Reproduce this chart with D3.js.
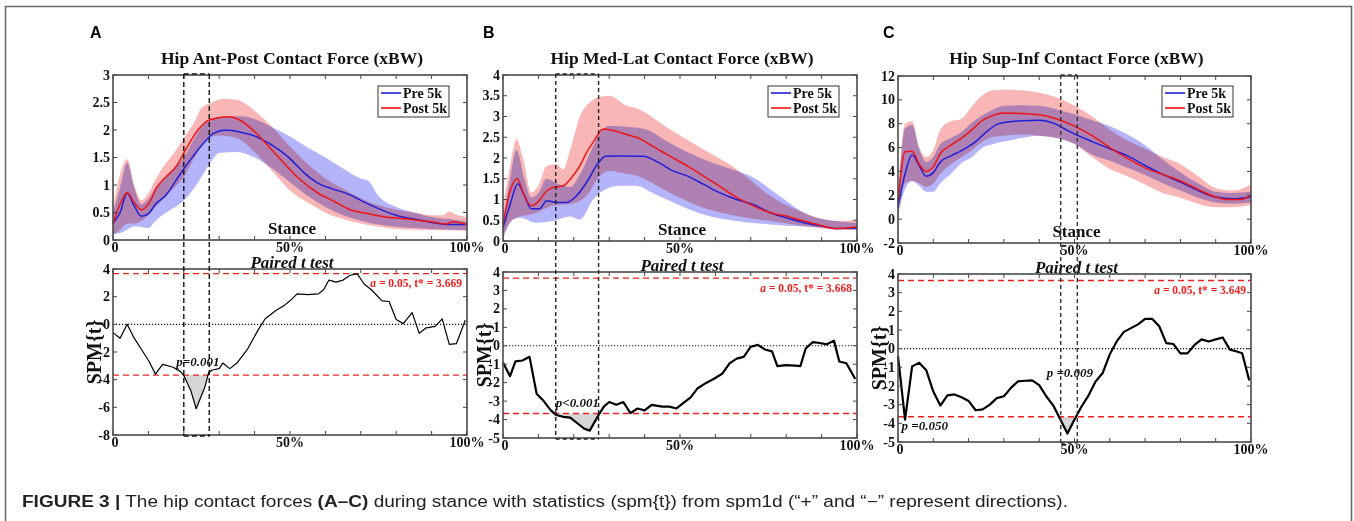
<!DOCTYPE html>
<html><head><meta charset="utf-8">
<script src="https://cdn.jsdelivr.net/npm/d3@7"></script>
<style>body{margin:0;background:#fff}svg{display:block}</style>
</head><body>
<svg id="c" width="1354" height="521"></svg>
<script>
// ---------------- DATA ----------------
const xTickValues = [0, 50, 100];
const xTickLabels = ["0", "50%", "100%"];
const seriesNames = ["Pre 5k", "Post 5k"];
const panelLetters = ["A", "B", "C"];
const panelTitles = ["Hip Ant-Post Contact Force (xBW)", "Hip Med-Lat Contact Force (xBW)", "Hip Sup-Inf Contact Force (xBW)"];
const thresholds = [3.669, 3.668, 3.649];

// Panel A: Ant-Post
const apPreMean = [[0,0.30],[2,0.50],[4,0.85],[6,0.62],[8,0.43],[10,0.48],[12,0.65],[15,0.82],[19,1.20],[22.6,1.52],[26,1.79],[28.4,1.94],[32,2.00],[36,1.96],[40.5,1.88],[44,1.76],[50,1.48],[54,1.22],[58,1.03],[62,0.93],[67,0.82],[70,0.72],[75,0.57],[80,0.45],[85,0.38],[90,0.32],[95,0.28],[100,0.28]];
const apPreUpper = [[0,0.50],[2,0.95],[4,1.40],[6,0.95],[8,0.65],[10,0.75],[12,0.95],[15,1.15],[18,1.35],[20,1.50],[23,1.85],[25,2.05],[28,2.20],[32,2.25],[36,2.25],[40,2.20],[45,2.05],[50,1.88],[55,1.68],[60,1.50],[65,1.30],[70,1.12],[72,1.08],[75,0.80],[80,0.60],[85,0.50],[90,0.42],[95,0.38],[100,0.33]];
const apPreLower = [[0,0.10],[3,0.15],[6,0.25],[10,0.22],[12,0.35],[15,0.50],[18,0.62],[20,0.72],[23,0.95],[25,1.15],[28,1.45],[30,1.58],[35,1.60],[40,1.50],[45,1.30],[50,1.05],[55,0.80],[60,0.60],[65,0.45],[70,0.35],[75,0.28],[80,0.24],[90,0.20],[100,0.18]];
const apPostMean = [[0,0.30],[2,0.65],[4,0.86],[6,0.68],[8,0.55],[10,0.65],[12.5,0.97],[15,1.15],[18,1.35],[20,1.58],[24,2.00],[27.5,2.19],[32.7,2.24],[36.6,2.15],[40.5,1.94],[44,1.70],[48,1.42],[53,1.09],[58,0.85],[62.6,0.70],[67,0.55],[72,0.48],[77,0.42],[82,0.39],[87,0.35],[91,0.32],[94,0.29],[96,0.33],[100,0.28]];
const apPostUpper = [[0,0.55],[2,1.20],[4,1.47],[6,1.00],[8,0.72],[10,0.85],[12,1.10],[15,1.40],[18,1.65],[20,1.85],[23,2.15],[25,2.40],[28,2.50],[31,2.57],[35,2.55],[38,2.45],[40,2.35],[45,2.05],[50,1.70],[55,1.38],[60,1.12],[65,0.93],[70,0.76],[75,0.63],[80,0.55],[85,0.50],[90,0.45],[93,0.45],[95,0.52],[97,0.46],[100,0.42]];
const apPostLower = [[0,0.10],[2,0.18],[4,0.30],[6,0.30],[8,0.35],[10,0.45],[12,0.60],[15,0.80],[18,1.00],[20,1.15],[23,1.50],[25,1.72],[28,1.88],[30,1.90],[35,1.85],[40,1.60],[45,1.25],[50,0.90],[55,0.68],[60,0.50],[65,0.38],[70,0.30],[75,0.24],[80,0.20],[90,0.18],[100,0.17]];
const apSpm = [[0,-0.6],[2,-1.0],[4,0.0],[6,-1.0],[8,-1.8],[10,-2.6],[12,-3.6],[14,-2.9],[17,-3.1],[19,-3.4],[20,-3.7],[22,-4.8],[23.5,-6.1],[26,-4.5],[27,-3.5],[28,-3.3],[30,-3.2],[31,-2.8],[33,-3.2],[35,-2.8],[38,-1.8],[41,-0.4],[43,0.4],[46,1.0],[48,1.3],[50,1.7],[52,2.2],[55,2.15],[58,2.2],[59.5,2.5],[61,3.2],[63,3.05],[65,3.2],[67,3.55],[69,3.65],[71,2.9],[73,2.5],[76,1.7],[78,1.65],[80,0.35],[82,0.05],[84.5,0.85],[86.5,-0.65],[88.5,-0.25],[91,-0.15],[93,0.4],[95,-1.45],[97,-1.4],[99.5,0.3]];

// Panel B: Med-Lat
const mlPreMean = [[0,0.32],[1.9,0.85],[4.2,1.38],[6,1.10],[8,0.78],[10.4,0.78],[12.3,0.97],[15,0.93],[18,0.93],[20.8,1.09],[23.6,1.41],[27,1.89],[29,2.04],[33,2.05],[39.6,2.04],[44,1.89],[48,1.69],[52,1.57],[56.6,1.37],[61,1.17],[66,1.00],[70.7,0.88],[75.5,0.68],[80,0.56],[85,0.44],[90,0.36],[94,0.30],[100,0.30]];
const mlPreUpper = [[0,0.50],[2,1.50],[3.8,2.20],[6,1.50],[8,1.05],[10,1.15],[12.3,1.50],[15,1.40],[19,1.30],[21.7,1.60],[25,2.20],[27,2.54],[30,2.78],[36,2.74],[40,2.70],[47,2.37],[56.6,1.97],[62,1.80],[66,1.69],[70.7,1.53],[75.5,1.25],[80,0.97],[85,0.68],[94,0.48],[100,0.44]];
const mlPreLower = [[0,0.04],[2.8,0.52],[4.7,0.56],[9.4,0.44],[14,0.48],[19,0.59],[21.7,0.52],[25.5,1.00],[28,1.20],[33,1.33],[37.7,1.33],[42,1.17],[47,0.97],[56.6,0.64],[66,0.48],[75.5,0.40],[85,0.35],[100,0.30]];
const mlPostMean = [[0,0.40],[2,1.20],[4,1.50],[6,1.10],[8,0.85],[10,0.95],[12.3,1.20],[14,1.29],[17,1.33],[19,1.49],[21.7,1.81],[23.6,2.13],[26,2.45],[28.3,2.70],[32.5,2.63],[35.8,2.54],[37.7,2.50],[42,2.30],[47,2.05],[52,1.81],[56.6,1.57],[61,1.33],[66,1.05],[70.7,0.85],[75.5,0.68],[80,0.60],[85,0.48],[89.6,0.38],[94,0.30],[100,0.34]];
const mlPostUpper = [[0,0.80],[2,1.80],[3.8,2.45],[5.7,1.97],[8,1.17],[10,1.33],[12.3,1.81],[15,1.85],[17,1.73],[19,2.20],[21.7,3.00],[24.5,3.34],[28,3.48],[30,3.50],[35,3.26],[37.7,3.20],[47,2.70],[56.6,2.21],[66,1.73],[75.5,1.09],[85,0.68],[94,0.48],[100,0.50]];
const mlPostLower = [[0,0.12],[2.8,0.52],[9.4,0.68],[14,0.85],[19,0.89],[23.6,1.09],[27.4,1.57],[30,1.69],[33,1.65],[37.7,1.57],[47,1.17],[56.6,0.80],[66,0.60],[75.5,0.48],[85,0.36],[94,0.28],[100,0.28]];
const mlSpm = [[0,-0.9],[2,-1.65],[3.5,-0.85],[5.5,-0.8],[7.5,-0.6],[9.5,-2.6],[11.5,-3.0],[13.5,-3.5],[15,-3.75],[17,-3.85],[19,-3.9],[21,-4.2],[23,-4.5],[24.5,-4.6],[27,-3.75],[28.5,-3.3],[30,-3.05],[32,-3.2],[34,-3.05],[36,-3.65],[38,-3.4],[40,-3.5],[42,-3.2],[45,-3.3],[47,-3.3],[49,-3.4],[51,-3.1],[53,-2.8],[55,-2.3],[57.5,-2.0],[59.5,-1.8],[62,-1.5],[64,-0.95],[66,-0.7],[68,-0.6],[70,-0.05],[72,0.05],[74,-0.2],[76,-0.3],[77.5,-1.1],[80,-1.05],[82.5,-1.08],[84,-1.1],[85.5,-0.15],[87.5,0.2],[89.5,0.15],[91.5,0.08],[93.5,0.28],[95,-0.85],[97,-0.95],[99.5,-1.8]];

// Panel C: Sup-Inf
const siPreMean = [[0,1.0],[2,3.8],[4,5.4],[6,4.5],[8,3.6],[10,3.9],[12,4.8],[15,5.3],[18,5.75],[22,6.5],[25,7.3],[28,7.95],[31,8.15],[35,8.25],[40,8.3],[44,8.05],[47,7.6],[50,7.15],[55,6.5],[60,5.9],[65,5.3],[70,4.5],[75,3.75],[80,3.1],[85,2.4],[90,1.85],[95,1.7],[100,1.85]];
const siPreUpper = [[0,1.5],[2,7.6],[4,7.9],[6,5.9],[8,4.8],[10,5.2],[12,6.3],[15,6.8],[18,7.3],[21,8.1],[24,8.7],[27,9.2],[30,9.5],[35,9.55],[40,9.5],[45,9.2],[50,8.8],[55,8.3],[60,7.8],[65,7.1],[70,6.2],[75,5.0],[80,3.9],[85,3.0],[90,2.3],[95,2.2],[100,2.3]];
const siPreLower = [[0,0.3],[2,2.5],[4,3.2],[6,2.8],[8,2.3],[10,2.3],[12,3.0],[15,3.8],[18,4.7],[21,5.2],[24,6.0],[27,6.3],[30,6.5],[35,6.8],[40,7.0],[45,6.8],[50,6.3],[55,5.4],[60,4.9],[65,4.3],[70,3.7],[75,3.0],[80,2.4],[85,1.8],[90,1.4],[95,1.3],[100,1.4]];
const siPostMean = [[0,1.3],[2,5.65],[4,5.7],[6,4.6],[8,4.0],[10,4.4],[12,5.5],[15,6.2],[18,6.8],[21,7.5],[24,8.3],[27,8.7],[30,8.9],[35,8.85],[40,8.75],[45,8.4],[50,7.8],[55,7.0],[60,6.0],[65,5.1],[70,4.3],[75,3.75],[80,3.2],[85,2.5],[90,1.85],[93,1.65],[97,1.65],[100,2.0]];
const siPostUpper = [[0,1.8],[2,8.0],[4,8.2],[6,6.0],[8,5.2],[10,5.8],[12,7.5],[15,8.2],[18,8.4],[21,9.5],[24,10.4],[27,10.8],[30,10.85],[35,10.8],[40,10.6],[45,10.2],[50,9.5],[55,8.6],[60,7.5],[65,6.6],[70,5.9],[75,5.2],[80,4.6],[85,3.6],[90,2.6],[95,2.4],[100,2.9]];
const siPostLower = [[0,0.5],[2,3.0],[4,3.2],[6,3.0],[8,2.7],[10,3.0],[12,3.8],[15,4.6],[18,5.2],[21,5.8],[24,6.5],[27,6.9],[30,7.0],[35,7.1],[40,7.0],[45,6.8],[50,6.3],[55,5.2],[60,4.2],[65,3.6],[70,2.9],[75,2.2],[80,1.8],[85,1.3],[90,1.0],[95,1.0],[100,1.2]];
const siSpm = [[0,-0.4],[2,-3.8],[4,-0.95],[6,-0.75],[8,-1.15],[10,-2.3],[12,-3.05],[14,-2.5],[16,-2.45],[18,-2.6],[20,-2.8],[22,-3.3],[24,-3.25],[26,-3.0],[28,-2.65],[30,-2.55],[32,-2.1],[34,-1.75],[36,-1.72],[38,-1.7],[40,-1.95],[42,-2.55],[44,-3.05],[46,-3.8],[48,-4.55],[50,-3.8],[52,-3.1],[54,-2.5],[56,-1.75],[58,-1.3],[60,-0.3],[62,0.4],[64,0.9],[66,1.1],[68,1.3],[70,1.6],[72,1.6],[74,1.2],[76,0.3],[78,0.25],[80,-0.25],[82,-0.25],[84,0.2],[86,0.5],[88,0.38],[90,0.5],[92,0.6],[94,-0.05],[96,-0.15],[97.5,-0.25],[99.5,-1.7]];

// y tick values
const apTopTicks = [0,0.5,1,1.5,2,2.5,3];
const apBotTicks = [-8,-6,-4,-2,0,2,4];
const mlTopTicks = [0,0.5,1,1.5,2,2.5,3,3.5,4];
const mlBotTicks = [-5,-4,-3,-2,-1,0,1,2,3,4];
const siTopTicks = [-2,0,2,4,6,8,10,12];
const siBotTicks = [-5,-4,-3,-2,-1,0,1,2,3,4];

// significant clusters (% stance) and p-value labels
const apCluster = [20, 27.2];
const mlCluster = [14.9, 27.0];
const siCluster = [46.1, 50.8];
const apPLabels = [{text:"p=0.001", x:24, y:-3.0}];
const mlPLabels = [{text:"p<0.001", x:21, y:-3.32}];
const siPLabels = [{text:"p =0.009", x:48.7, y:-1.52}, {text:"p =0.050", x:7.6, y:-4.36}];

const captionBold = "FIGURE 3 |";
const captionText = " The hip contact forces ";
const captionBold2 = "(A–C)";
const captionText2 = " during stance with statistics (spm{t}) from spm1d (\u201C+\u201D and \u201C\u2212\u201D represent directions).";

// ---------------- LAYOUT ----------------
const panels = [
  {letter:panelLetters[0], title:panelTitles[0], thr:thresholds[0],
   pre:[apPreMean,apPreUpper,apPreLower], post:[apPostMean,apPostUpper,apPostLower], spm:apSpm,
   topTicks:apTopTicks, botTicks:apBotTicks, cluster:apCluster, pLabels:apPLabels,
   x0:113, x1:467, t0:75, t1:240, b0:269, b1:435, letterX:90, spmW:1.2, clusterColor:"#111", clusterDash:"5,3"},
  {letter:panelLetters[1], title:panelTitles[1], thr:thresholds[1],
   pre:[mlPreMean,mlPreUpper,mlPreLower], post:[mlPostMean,mlPostUpper,mlPostLower], spm:mlSpm,
   topTicks:mlTopTicks, botTicks:mlBotTicks, cluster:mlCluster, pLabels:mlPLabels,
   x0:503, x1:857, t0:75, t1:241, b0:272, b1:438, letterX:483, spmW:2.2, clusterColor:"#222", clusterDash:"4,3"},
  {letter:panelLetters[2], title:panelTitles[2], thr:thresholds[2],
   pre:[siPreMean,siPreUpper,siPreLower], post:[siPostMean,siPostUpper,siPostLower], spm:siSpm,
   topTicks:siTopTicks, botTicks:siBotTicks, cluster:siCluster, pLabels:siPLabels,
   x0:898, x1:1251, t0:76, t1:243, b0:274, b1:442, letterX:883, spmW:2.2, clusterColor:"#333", clusterDash:"4,3"}
];

const serif = "'Liberation Serif','Times New Roman',serif";
const sans = "'Liberation Sans',Arial,Helvetica,sans-serif";
const svg = d3.select("#c");

// figure frame
svg.append("path").attr("d","M5.5,530 L5.5,6.5 L1351.5,6.5 L1351.5,530")
  .attr("fill","none").attr("stroke","#6a6a6a").attr("stroke-width",1.6);

const BLUE = "#1f1fd8", RED = "#f01414";

panels.forEach((p, i) => {
  const g = svg.append("g");
  const x = d3.scaleLinear().domain([0,100]).range([p.x0, p.x1]);
  const yT = d3.scaleLinear().domain(d3.extent(p.topTicks)).range([p.t1, p.t0]);
  const yB = d3.scaleLinear().domain(d3.extent(p.botTicks)).range([p.b1, p.b0]);
  const cx = (p.x0 + p.x1) / 2;

  // panel letter
  g.append("text").attr("x", p.letterX).attr("y", 38).text(p.letter)
    .attr("font-family", sans).attr("font-weight","bold").attr("font-size",16).attr("fill","#000");
  // title
  g.append("text").attr("x", cx + 2).attr("y", 64).attr("text-anchor","middle").text(p.title)
    .attr("font-family", serif).attr("font-weight","bold").attr("font-size",17.5).attr("fill","#111");

  // bands
  const lineT = d3.line().x(d => x(d[0])).y(d => yT(d[1])).curve(d3.curveMonotoneX);
  function band(upper, lower) {
    const a = lineT(upper);
    const b = lineT(lower.slice().reverse());
    return a + "L" + b.slice(1) + "Z";
  }
  g.append("path").attr("d", band(p.pre[1], p.pre[2])).attr("fill","rgb(180,180,250)")
    .style("mix-blend-mode","multiply");
  g.append("path").attr("d", band(p.post[1], p.post[2])).attr("fill","rgb(248,182,182)")
    .style("mix-blend-mode","multiply");
  g.append("path").attr("d", lineT(p.pre[0])).attr("fill","none").attr("stroke",BLUE).attr("stroke-width",1.5);
  g.append("path").attr("d", lineT(p.post[0])).attr("fill","none").attr("stroke",RED).attr("stroke-width",1.5);

  // Stance label
  g.append("text").attr("x", cx + 2).attr("y", p.t1 - 6).attr("text-anchor","middle").text("Stance")
    .attr("font-family", serif).attr("font-weight","bold").attr("font-size",17).attr("fill","#111");

  // bottom: SPM
  const clipId = "clip" + i;
  const defs = svg.append("defs");
  defs.append("clipPath").attr("id", clipId).append("rect")
    .attr("x", p.x0).attr("y", yB(-p.thr)).attr("width", p.x1 - p.x0).attr("height", p.b1 - yB(-p.thr));
  const areaB = d3.area().x(d => x(d[0])).y0(yB(-p.thr)).y1(d => yB(d[1]));
  g.append("path").attr("d", areaB(p.spm)).attr("fill","#d6d6d6").attr("clip-path", `url(#${clipId})`);

  // zero line
  g.append("line").attr("x1", p.x0).attr("x2", p.x1).attr("y1", yB(0)).attr("y2", yB(0))
    .attr("stroke","#111").attr("stroke-width",1.1).attr("stroke-dasharray","1.2,1.8");
  // threshold lines
  [p.thr, -p.thr].forEach(t => {
    g.append("line").attr("x1", p.x0).attr("x2", p.x1).attr("y1", yB(t)).attr("y2", yB(t))
      .attr("stroke","#f02020").attr("stroke-width",1.4).attr("stroke-dasharray","6,4");
  });
  g.append("text").attr("x", p.x1 - 5).attr("y", yB(p.thr) + 13.5).attr("text-anchor","end")
    .attr("font-family", serif).attr("font-weight","bold").attr("font-size",11.5).attr("fill","#f02020")
    .html(`<tspan font-style="italic">a</tspan> = 0.05, t* = ${p.thr.toFixed(3)}`);

  const lineB = d3.line().x(d => x(d[0])).y(d => yB(d[1]));
  g.append("path").attr("d", lineB(p.spm)).attr("fill","none").attr("stroke","#000")
    .attr("stroke-width", p.spmW).attr("stroke-linejoin","round");

  // p labels
  p.pLabels.forEach(l => {
    g.append("text").attr("x", x(l.x)).attr("y", yB(l.y)).attr("text-anchor","middle").text(l.text)
      .attr("font-family", serif).attr("font-weight","bold").attr("font-style","italic")
      .attr("font-size",13).attr("fill","#111");
  });

  // Paired t test label
  g.append("text").attr("x", cx + 2).attr("y", p.b0 - 1).attr("text-anchor","middle").text("Paired t test")
    .attr("font-family", serif).attr("font-weight","bold").attr("font-style","italic")
    .attr("font-size",17).attr("fill","#111");
  // SPM{t}
  const ym = (p.b0 + p.b1) / 2;
  g.append("text").attr("transform", `translate(${p.x0 - 12},${ym}) rotate(-90)`)
    .attr("text-anchor","middle").text("SPM{t}")
    .attr("font-family", serif).attr("font-weight","bold").attr("font-size",20).attr("fill","#111");

  // axes boxes with ticks
  function axesBox(y, y0, y1, ticks) {
    const xt = d3.range(0, 101, 10);
    const tl = 4;
    xt.forEach(v => {
      g.append("line").attr("x1", x(v)).attr("x2", x(v)).attr("y1", y1).attr("y2", y1 - tl).attr("stroke","#444").attr("stroke-width",1);
      g.append("line").attr("x1", x(v)).attr("x2", x(v)).attr("y1", y0).attr("y2", y0 + tl).attr("stroke","#444").attr("stroke-width",1);
    });
    ticks.forEach(v => {
      g.append("line").attr("x1", p.x0).attr("x2", p.x0 + tl).attr("y1", y(v)).attr("y2", y(v)).attr("stroke","#444").attr("stroke-width",1);
      g.append("line").attr("x1", p.x1).attr("x2", p.x1 - tl).attr("y1", y(v)).attr("y2", y(v)).attr("stroke","#444").attr("stroke-width",1);
      g.append("text").attr("x", p.x0 - 3).attr("y", y(v) + 4.5).attr("text-anchor","end").text(String(v))
        .attr("font-family", serif).attr("font-weight","bold").attr("font-size",14).attr("fill","#111");
    });
    xTickValues.forEach((v, k) => {
      g.append("text").attr("x", x(v) + (k === 0 ? 2 : 0)).attr("y", y1 + 12).attr("text-anchor","middle").text(xTickLabels[k])
        .attr("font-family", serif).attr("font-weight","bold").attr("font-size",14).attr("fill","#111");
    });
    g.append("rect").attr("x", p.x0).attr("y", y0).attr("width", p.x1 - p.x0).attr("height", y1 - y0)
      .attr("fill","none").attr("stroke","#4a4a4a").attr("stroke-width",1.6);
  }
  axesBox(yT, p.t0, p.t1, p.topTicks);
  axesBox(yB, p.b0, p.b1, p.botTicks);

  // cluster dashed box spanning both plots
  const cx0 = x(p.cluster[0]), cx1 = x(p.cluster[1]);
  g.append("path").attr("d", `M${cx0},${p.t0 - 1} L${cx1},${p.t0 - 1} M${cx0},${p.b1 + 1} L${cx1},${p.b1 + 1} M${cx0},${p.t0 - 1} L${cx0},${p.b1 + 1} M${cx1},${p.t0 - 1} L${cx1},${p.b1 + 1}`)
    .attr("fill","none").attr("stroke", p.clusterColor).attr("stroke-width",1.4).attr("stroke-dasharray", p.clusterDash);

  // legend
  const lx = p.x1 - 89, ly = 86;
  g.append("rect").attr("x", lx).attr("y", ly).attr("width", 71).attr("height", 31)
    .attr("fill","#fff").attr("stroke","#333").attr("stroke-width",1);
  [[BLUE, seriesNames[0], 7], [RED, seriesNames[1], 22]].forEach(([c, t, dy]) => {
    g.append("line").attr("x1", lx + 3).attr("x2", lx + 23).attr("y1", ly + dy).attr("y2", ly + dy)
      .attr("stroke", c).attr("stroke-width",1.6);
    g.append("text").attr("x", lx + 25).attr("y", ly + dy + 4.5).text(t)
      .attr("font-family", serif).attr("font-weight","bold").attr("font-size",14).attr("fill","#111");
  });
});

// caption
const cap = svg.append("text").attr("x", 22).attr("y", 507)
  .attr("font-family", sans).attr("font-size", 16).attr("fill","#222")
  .attr("textLength", 1046).attr("lengthAdjust", "spacingAndGlyphs");
cap.append("tspan").attr("font-weight","bold").text(captionBold);
cap.append("tspan").text(captionText);
cap.append("tspan").attr("font-weight","bold").text(captionBold2);
cap.append("tspan").text(captionText2);
</script>
</body></html>
